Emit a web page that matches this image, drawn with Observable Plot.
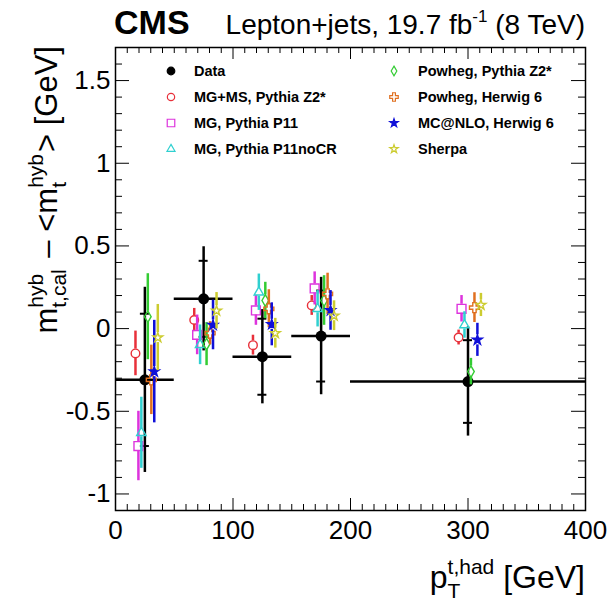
<!DOCTYPE html>
<html><head><meta charset="utf-8">
<script src="https://cdn.jsdelivr.net/npm/d3@7"></script>
<script src="https://cdn.jsdelivr.net/npm/@observablehq/plot@0.6"></script>
<style>
body{margin:0;background:#fff;}
#chart{position:relative;width:609px;height:605px;}
text{white-space:pre;}
</style></head><body><div id="chart"></div>
<script>
// ---- data ----
const binLo = [0, 50, 100, 150, 200];
const binHi = [50, 100, 150, 200, 400];
const dataX = [25, 75, 125, 175, 300];
const dataY = [-0.31, 0.18, -0.17, -0.045, -0.32];
const dataStat = [0.40, 0.23, 0.23, 0.275, 0.25];
const dataTot = [0.56, 0.315, 0.285, 0.355, 0.33];

const genNames = ["MG+MS, Pythia Z2*", "MG, Pythia P11", "MG, Pythia P11noCR", "Powheg, Pythia Z2*", "Powheg, Herwig 6", "MC@NLO, Herwig 6", "Sherpa"];
const genShift = [-8, -5.5, -3, 2.5, 5.5, 8, 11];
const mcMGMS   = [-0.15, 0.052, -0.10, 0.14, -0.054];
const mcMGMSe  = [0.135, 0.07, 0.06, 0.06, 0.045];
const mcP11    = [-0.71, -0.038, 0.11, 0.243, 0.12];
const mcP11e   = [0.21, 0.12, 0.09, 0.10, 0.08];
const mcNoCR   = [-0.63, -0.098, 0.22, 0.12, 0.022];
const mcNoCRe  = [0.215, 0.12, 0.11, 0.11, 0.08];
const mcPowPy  = [0.072, -0.094, 0.17, 0.17, -0.26];
const mcPowPye = [0.26, 0.13, 0.11, 0.15, 0.08];
const mcPowHw  = [-0.31, -0.028, 0.12, 0.21, 0.127];
const mcPowHwe = [0.21, 0.07, 0.115, 0.125, 0.09];
const mcNLO    = [-0.26, 0.022, 0.026, 0.11, -0.068];
const mcNLOe   = [0.31, 0.15, 0.13, 0.12, 0.10];
const mcSherpa = [-0.054, 0.108, -0.028, 0.078, 0.143];
const mcSherpae= [0.20, 0.11, 0.09, 0.09, 0.07];
const mcValues = [mcMGMS, mcP11, mcNoCR, mcPowPy, mcPowHw, mcNLO, mcSherpa];
const mcErrors = [mcMGMSe, mcP11e, mcNoCRe, mcPowPye, mcPowHwe, mcNLOe, mcSherpae];

const xTicks = [0, 100, 200, 300, 400];
const yTicks = [-1, -0.5, 0, 0.5, 1, 1.5];

// ---- style ----
const genColor  = ["#e8303a", "#dd33dd", "#2fd0d0", "#33cc33", "#e07020", "#1010d8", "#cccc30"];
const genSymbol = ["circle", "square", "triangle", "diamond", "cross", "star", "star"];
const genFilled = [false, false, false, false, false, true, false];
const genR      = [4.3, 5, 3.5, 3.5, 4.2, 3.1, 3.1];
const genGap    = [4.3, 4.5, 4, 5.5, 5, 5, 5];
const FONT = "'Liberation Sans', Arial, Helvetica, sans-serif";

const W = 609, H = 605, mL = 115, mR = 24, mT = 47, mB = 95;
const fw = W - mL - mR, fh = H - mT - mB;

const dataRows = dataX.map((x, i) => ({x, y: dataY[i], lo: binLo[i], hi: binHi[i], s: dataStat[i], t: dataTot[i]}));

const xMinor = d3.range(0, 401, 10).filter(v => v % 100 !== 0);
const yMinor = d3.range(-11, 18, 1).map(v => v / 10).filter(v => Math.abs(v * 2 - Math.round(v * 2)) > 1e-9);

const marks = [
  // inner ticks, ROOT style
  Plot.tickX(xMinor, {x: d => d, insetTop: fh - 6, stroke: "black", strokeWidth: 1}),
  Plot.tickX(xMinor, {x: d => d, insetBottom: fh - 6, stroke: "black", strokeWidth: 1}),
  Plot.tickX(xTicks, {x: d => d, insetTop: fh - 12, stroke: "black", strokeWidth: 1}),
  Plot.tickX(xTicks, {x: d => d, insetBottom: fh - 12, stroke: "black", strokeWidth: 1}),
  Plot.tickY(yMinor, {y: d => d, insetRight: fw - 7, stroke: "black", strokeWidth: 1}),
  Plot.tickY(yMinor, {y: d => d, insetLeft: fw - 7, stroke: "black", strokeWidth: 1}),
  Plot.tickY(yTicks, {y: d => d, insetRight: fw - 14, stroke: "black", strokeWidth: 1}),
  Plot.tickY(yTicks, {y: d => d, insetLeft: fw - 14, stroke: "black", strokeWidth: 1}),
  Plot.axisX(xTicks, {tickSize: 0, tickPadding: 10, tickFormat: d => String(d), label: null, fontSize: 26}),
  Plot.axisY(yTicks, {tickSize: 0, tickPadding: 5, tickFormat: d => String(d), label: null, fontSize: 26}),
  // data
  Plot.ruleY(dataRows, {y: "y", x1: "lo", x2: "hi", stroke: "black", strokeWidth: 2.5}),
  Plot.ruleX(dataRows, {x: "x", y1: d => d.y + d.t, y2: d => d.y - d.t, stroke: "black", strokeWidth: 2.5}),
  Plot.ruleY(dataRows, {y: d => d.y + d.s, x1: "x", x2: "x", insetLeft: -4.5, insetRight: -4.5, stroke: "black", strokeWidth: 2}),
  Plot.ruleY(dataRows, {y: d => d.y - d.s, x1: "x", x2: "x", insetLeft: -4.5, insetRight: -4.5, stroke: "black", strokeWidth: 2}),
  Plot.dot(dataRows, {x: "x", y: "y", r: 5.5, fill: "black", stroke: "none"})
];

genNames.forEach((name, g) => {
  const rows = dataX.map((x, i) => ({x: x + genShift[g], y: mcValues[g][i], e: mcErrors[g][i]}));
  marks.push(
    Plot.ruleX(rows, {x: "x", y1: d => d.y + d.e, y2: "y", insetBottom: genGap[g], stroke: genColor[g], strokeWidth: 2.5}),
    Plot.ruleX(rows, {x: "x", y1: "y", y2: d => d.y - d.e, insetTop: genGap[g], stroke: genColor[g], strokeWidth: 2.5}),
    Plot.dot(rows, {x: "x", y: "y", r: genR[g], symbol: genSymbol[g], stroke: genColor[g],
      fill: genFilled[g] ? genColor[g] : "none", strokeWidth: 1.4})
  );
});
marks.push(Plot.frame({stroke: "black", strokeWidth: 1.5}));

const chart = Plot.plot({
  width: W, height: H,
  marginLeft: mL, marginRight: mR, marginTop: mT, marginBottom: mB,
  x: {domain: [0, 400]},
  y: {domain: [-1.1, 1.7]},
  style: {fontFamily: FONT, fontSize: "26px", color: "black", background: "white", overflow: "visible"},
  marks
});
document.getElementById("chart").appendChild(chart);

// ---- text overlays (titles, axis titles with sub/superscripts, legend) ----
const svg = d3.select(chart);
const ann = svg.append("g").attr("font-family", FONT).attr("fill", "black").attr("text-anchor", "start");

function rich(parent, pieces) {
  const g = parent.append("g");
  let x = 0;
  for (const p of pieces) {
    const list = p.stack || [p];
    let w = 0;
    for (const q of list) {
      const t = g.append("text").attr("x", x).attr("y", q.dy || 0).attr("text-anchor", "start")
        .attr("font-size", q.size).attr("font-weight", q.bold ? "bold" : null).text(q.text);
      w = Math.max(w, t.node().getComputedTextLength());
    }
    x += w + (p.gap || 0);
  }
  return {g, width: x};
}

// CMS title
ann.append("text").attr("x", 114).attr("y", 34).attr("font-size", 34).attr("font-weight", "bold").text("CMS");
const lum = rich(ann, [
  {text: "Lepton+jets, 19.7 fb", size: 28},
  {text: "-1", size: 17, dy: -12},
  {text: " (8 TeV)", size: 28}
]);
lum.g.attr("transform", `translate(${585 - lum.width},34)`);

// x-axis title
const xt = rich(ann, [
  {text: "p", size: 32},
  {stack: [{text: "t,had", size: 21, dy: -14}, {text: "T", size: 21, dy: 10}]},
  {text: " [GeV]", size: 32}
]);
xt.g.attr("transform", `translate(${585 - xt.width},588)`);

// y-axis title
const yt = rich(ann, [
  {text: "m", size: 31},
  {stack: [{text: "hyb", size: 21, dy: -14}, {text: "t,cal", size: 21, dy: 9}], gap: 3},
  {text: " \u2013 <", size: 31},
  {text: "m", size: 31},
  {stack: [{text: "hyb", size: 21, dy: -14}, {text: "t", size: 21, dy: 9}], gap: 2},
  {text: "> [GeV]", size: 31}
]);
yt.g.attr("transform", `translate(57,${46 + yt.width}) rotate(-90)`);

// legend
const legEntries = [{name: "Data", symbol: "circle", color: "black", filled: true, r: 3.8}]
  .concat(genNames.map((n, g) => ({name: n, symbol: genSymbol[g], color: genColor[g], filled: genFilled[g], r: genR[g] * 0.85})));
const symMap = {circle: d3.symbolCircle, square: d3.symbolSquare, triangle: d3.symbolTriangle,
  diamond: d3.symbolDiamond, cross: d3.symbolCross, star: d3.symbolStar};
const legCols = [{mx: 171, tx: 194}, {mx: 394, tx: 418}];
const legRows = [71, 97, 123, 149];
legEntries.forEach((e, k) => {
  const col = legCols[Math.floor(k / 4)], y = legRows[k % 4];
  ann.append("path")
    .attr("d", d3.symbol(symMap[e.symbol], e.r * e.r * Math.PI)())
    .attr("transform", `translate(${col.mx},${y})`)
    .attr("fill", e.filled ? e.color : "none").attr("stroke", e.color).attr("stroke-width", 1.2);
  ann.append("text").attr("x", col.tx).attr("y", y).attr("dy", "0.36em")
    .attr("font-size", 14.5).attr("font-weight", "bold").text(e.name);
});
</script></body></html>
